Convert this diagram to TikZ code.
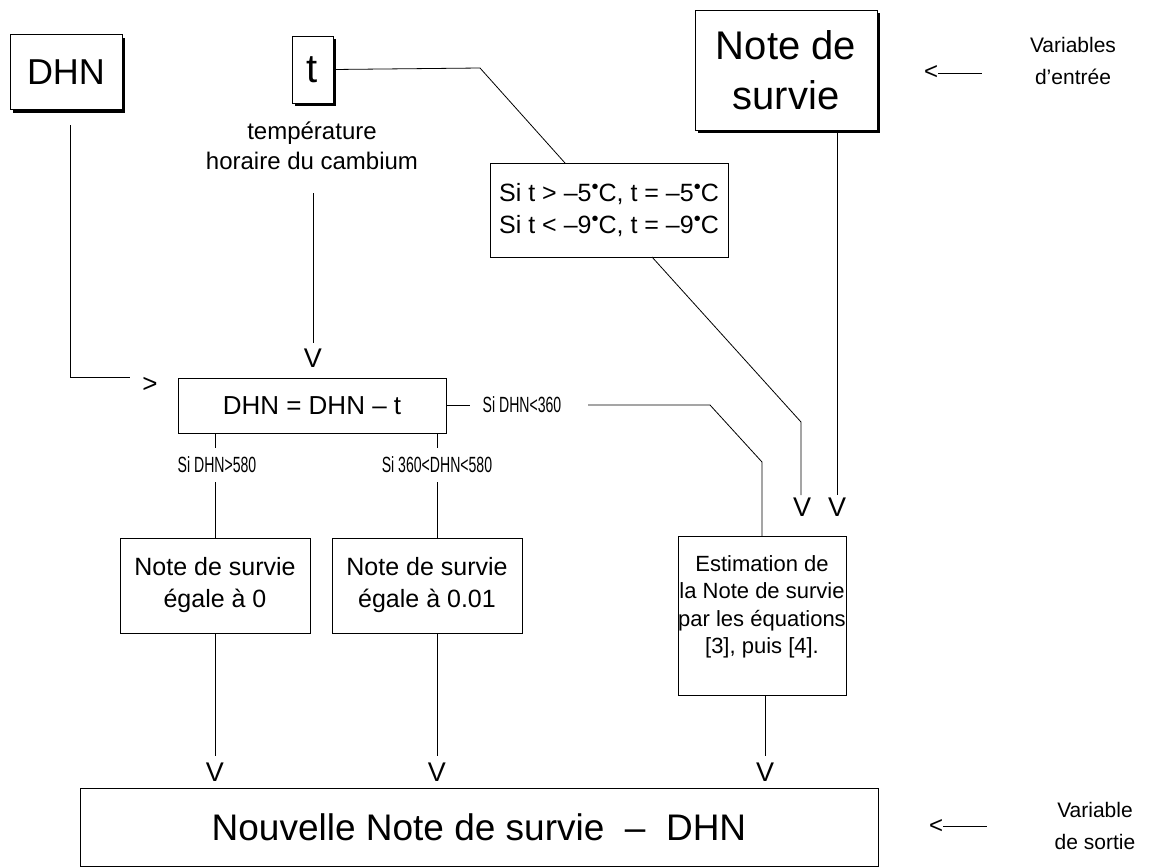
\documentclass[tikz,border=0pt]{standalone}
\usepackage{fontspec}
\usepackage{graphicx}
\setmainfont{Liberation Sans}
\newfontfamily\narrowfont[FakeStretch=0.64]{Liberation Sans}
\usetikzlibrary{shadows}
\newcommand{\dgr}{\raisebox{0.3em}{\scalebox{0.8}{•}}}
\begin{document}
\begin{tikzpicture}[x=1pt,y=-1pt,line width=0.8pt,
  box/.style={draw,fill=white,inner sep=0pt,align=center},
  shbox/.style={box,drop shadow={shadow xshift=3pt,shadow yshift=-3pt,opacity=1,fill=black}},
  tipv/.style={inner sep=0pt,font=\fontsize{27}{27}\selectfont},
  cond/.style={inner sep=0pt,font=\narrowfont\fontsize{22}{22}\selectfont},
  lab/.style={inner sep=0pt,align=center,font=\fontsize{21}{32}\selectfont}]
\useasboundingbox (0,0) rectangle (1152,868);

% input boxes
\node[shbox,minimum width=112,minimum height=75,font=\fontsize{36}{40}\selectfont] (dhn) at (66,72) {DHN};
\node[shbox,minimum width=41,minimum height=67,font=\fontsize{40}{40}\selectfont] (t) at (312.5,69.5) {t};
\node[shbox,minimum width=182,minimum height=120,font=\fontsize{40}{50}\selectfont] (note) at (786,70) {Note de\\survie};
\node[inner sep=0pt,align=center,font=\fontsize{24}{30}\selectfont] (tlab) at (312,146) {température\\horaire du cambium};

% condition box on t
\node[box,minimum width=238,minimum height=94,font=\fontsize{25}{32}\selectfont] (clip) at (609,210) {Si t > –5\dgr C, t = –5\dgr C\\Si t < –9\dgr C, t = –9\dgr C};

% main computation
\node[box,minimum width=268,minimum height=55,font=\fontsize{26}{30}\selectfont] (calc) at (312,405.5) {DHN = DHN – t};

\node[box,minimum width=190,minimum height=95,font=\fontsize{25}{32}\selectfont] (z0) at (215,585.5) {Note de survie\\égale à 0};
\node[box,minimum width=190,minimum height=95,font=\fontsize{25}{32}\selectfont] (z1) at (427,585.5) {Note de survie\\égale à 0.01};
\node[box,minimum width=168,minimum height=159] (est) at (762,615.5) {};
\node[inner sep=0pt,align=center,font=\fontsize{22}{27.5}\selectfont] (esttxt) at (762,607) {Estimation de\\la Note de survie\\par les équations\\{[3]}, puis [4].};

\node[box,minimum width=798,minimum height=78,font=\fontsize{37}{40}\selectfont] (out) at (479,827) {Nouvelle Note de survie\ \ –\ \ DHN};

% labels on the right
\node[lab] (vin) at (1073,61) {Variables\\d'entrée};
\node[lab] (vout) at (1095,826) {Variable\\de sortie};
\node[inner sep=0pt,font=\fontsize{24}{24}\selectfont] (ain) at (931,73) {<};
\node[inner sep=0pt,font=\fontsize{24}{24}\selectfont] (aout) at (936,826) {<};
\coordinate (ainE) at (982,73);
\coordinate (aoutE) at (987,826);
\draw (ain.east) -- (ainE);
\draw (aout.east) -- (aoutE);

% condition labels
\node[cond] (c360) at (522,405) {Si DHN<360};
\node[cond] (c580) at (217,465) {Si DHN>580};
\node[cond] (cmid) at (437,465) {Si 360<DHN<580};

% arrow heads (drawn as characters)
\node[tipv] (vt) at (313,358) {V};
\node[tipv] (vcl) at (802,507) {V};
\node[tipv] (vno) at (837,507) {V};
\node[tipv] (v0) at (215,772) {V};
\node[tipv] (v1) at (437,772) {V};
\node[tipv] (ve) at (765,772) {V};
\node[inner sep=0pt,font=\fontsize{26}{26}\selectfont] (gt) at (150,385) {>};

% bends
\coordinate (tb1) at (480,68);
\coordinate (tb2) at (565,163);
\coordinate (cb1) at (652,257);
\coordinate (cb2) at (801,422);
\coordinate (cb3) at (801,495);
\coordinate (nb1) at (837,132);
\coordinate (nb2) at (837,495);
\coordinate (tl1) at (313,193);
\coordinate (tl2) at (313,343);
\coordinate (d1) at (70,125);
\coordinate (d2) at (70,377);
\coordinate (d3) at (130,377);
\coordinate (r1) at (447,405);
\coordinate (r2) at (470,405);
\coordinate (r3) at (588,405);
\coordinate (r4) at (710,405);
\coordinate (r5) at (762,462);
\coordinate (r6) at (762,536);
\coordinate (a1) at (215,433);
\coordinate (a2) at (215,448);
\coordinate (a3) at (215,482);
\coordinate (a4) at (215,538);
\coordinate (b1) at (437,433);
\coordinate (b2) at (437,448);
\coordinate (b3) at (437,482);
\coordinate (b4) at (437,538);
\coordinate (o0) at (215,633);
\coordinate (o1) at (437,633);
\coordinate (oe) at (765,695);
\coordinate (o0e) at (215,756);
\coordinate (o1e) at (437,756);
\coordinate (oee) at (765,756);

% connectors
\draw (t.east) -- (tb1) -- (tb2);
\draw (cb1) -- (cb2) -- (cb3);
\draw (nb1) -- (nb2);
\draw (tl1) -- (tl2);
\draw (d1) -- (d2) -- (d3);
\draw (r1) -- (r2);
\draw (r3) -- (r4) -- (r5) -- (r6);
\draw (a1) -- (a2);
\draw (a3) -- (a4);
\draw (b1) -- (b2);
\draw (b3) -- (b4);
\draw (o0) -- (o0e);
\draw (o1) -- (o1e);
\draw (oe) -- (oee);
\end{tikzpicture}
\end{document}
